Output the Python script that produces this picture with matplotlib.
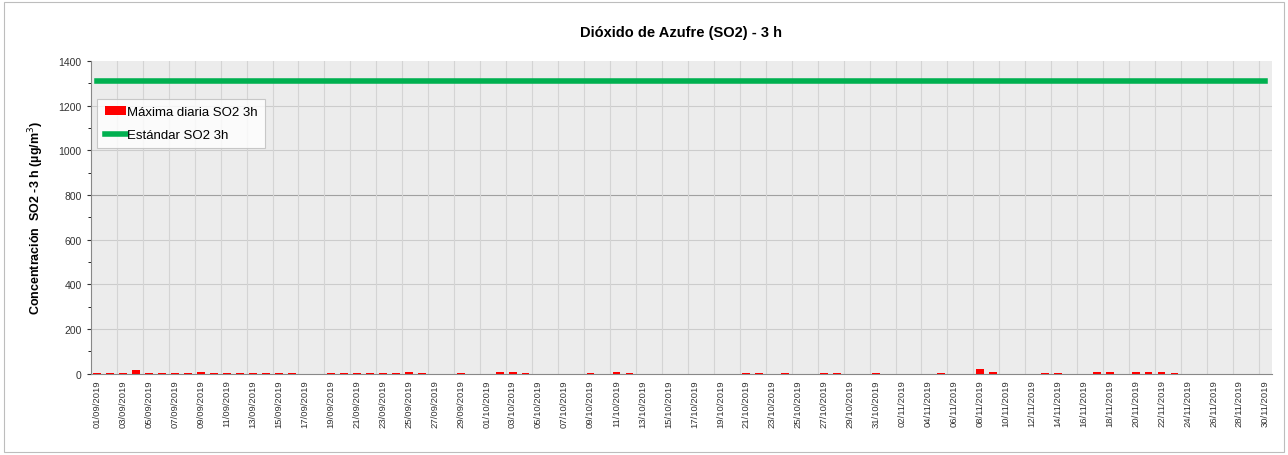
import matplotlib
matplotlib.use("Agg")
import matplotlib.pyplot as plt
from matplotlib.ticker import MultipleLocator
from matplotlib.patches import Rectangle
import datetime as dt

plt.rcParams['font.family'] = ['Liberation Sans', 'DejaVu Sans']

start = dt.date(2019, 9, 1)
dates = [start + dt.timedelta(days=i) for i in range(91)]
labels = [d.strftime("%d/%m/%Y") for d in dates]

# Daily maximum SO2 3h (µg/m3)
so2_max = [
    3, 3, 5, 18, 3, 3, 3, 3, 6, 3,      # 01-10 Sep
    3, 3, 3, 3, 3, 3, 0, 0, 3, 3,       # 11-20 Sep
    3, 3, 3, 3, 7, 3, 0, 0, 3, 0,       # 21-30 Sep
    0, 6, 10, 3, 0, 0, 0, 0, 3, 0,      # 01-10 Oct
    7, 3, 0, 0, 0, 0, 0, 0, 0, 0,       # 11-20 Oct
    3, 3, 0, 3, 0, 0, 3, 3, 0, 0,       # 21-30 Oct
    3,                                  # 31 Oct
    0, 0, 0, 0, 3, 0, 0, 20, 10, 0,     # 01-10 Nov
    0, 0, 3, 3, 0, 0, 7, 7, 0, 7,       # 11-20 Nov
    7, 7, 3, 0, 0, 0, 0, 0, 0, 0,       # 21-30 Nov
]
standard = [1310] * 91

fig = plt.figure(figsize=(12.88, 4.56), dpi=100)
fig.patches.append(Rectangle((0.003, 0.006), 0.994, 0.988, transform=fig.transFigure,
                             fill=False, edgecolor='#bdbdbd', linewidth=0.8))
ax = fig.add_axes([0.0705, 0.178, 0.917, 0.686])
ax.set_facecolor('#ececec')

x = list(range(91))
bars = ax.bar(x, so2_max, width=0.6, color='#ff0000', label='Máxima diaria SO2 3h', zorder=3)
line, = ax.plot(x, standard, color='#00b050', linewidth=4, label='Estándar SO2 3h', zorder=4)

ax.set_xlim(-0.5, 90.5)
ax.set_ylim(0, 1400)
ax.yaxis.set_major_locator(MultipleLocator(200))
ax.yaxis.set_minor_locator(MultipleLocator(100))
ax.set_xticks(x[::2])
ax.set_xticklabels(labels[::2], rotation=90, fontsize=6.8, color='#333333')
ax.tick_params(axis='y', labelsize=7.5, colors='#333333', length=3)
ax.tick_params(axis='y', which='minor', length=2)
ax.tick_params(axis='x', length=0, pad=4)

for yv in range(200, 1400, 200):
    ax.axhline(yv, color='#a0a0a0' if yv == 800 else '#cccccc', linewidth=0.8, zorder=1)
for xv in [i + 0.5 for i in range(1, 90, 2)]:
    ax.axvline(xv, color='#d4d4d4', linewidth=0.8, zorder=1)

for s in ['top', 'right']:
    ax.spines[s].set_visible(False)
ax.spines['left'].set_color('#888888')
ax.spines['bottom'].set_color('#888888')

ax.set_title('Dióxido de Azufre (SO2) - 3 h', fontsize=10.5, fontweight='bold', pad=18)
ax.set_ylabel('Concentración  SO2 -3 h (µg/m$^3$)', fontsize=9, fontweight='bold', labelpad=9)

leg = ax.legend([bars, line], ['Máxima diaria SO2 3h', 'Estándar SO2 3h'],
                loc='upper left', bbox_to_anchor=(0.0, 0.9), fontsize=9.5, frameon=True,
                fancybox=False, edgecolor='#bdbdbd', handlelength=1.6, handletextpad=0.1,
                borderpad=0.55, labelspacing=0.8)
leg.get_frame().set_linewidth(0.8)

fig.savefig('out.png', dpi=100)
